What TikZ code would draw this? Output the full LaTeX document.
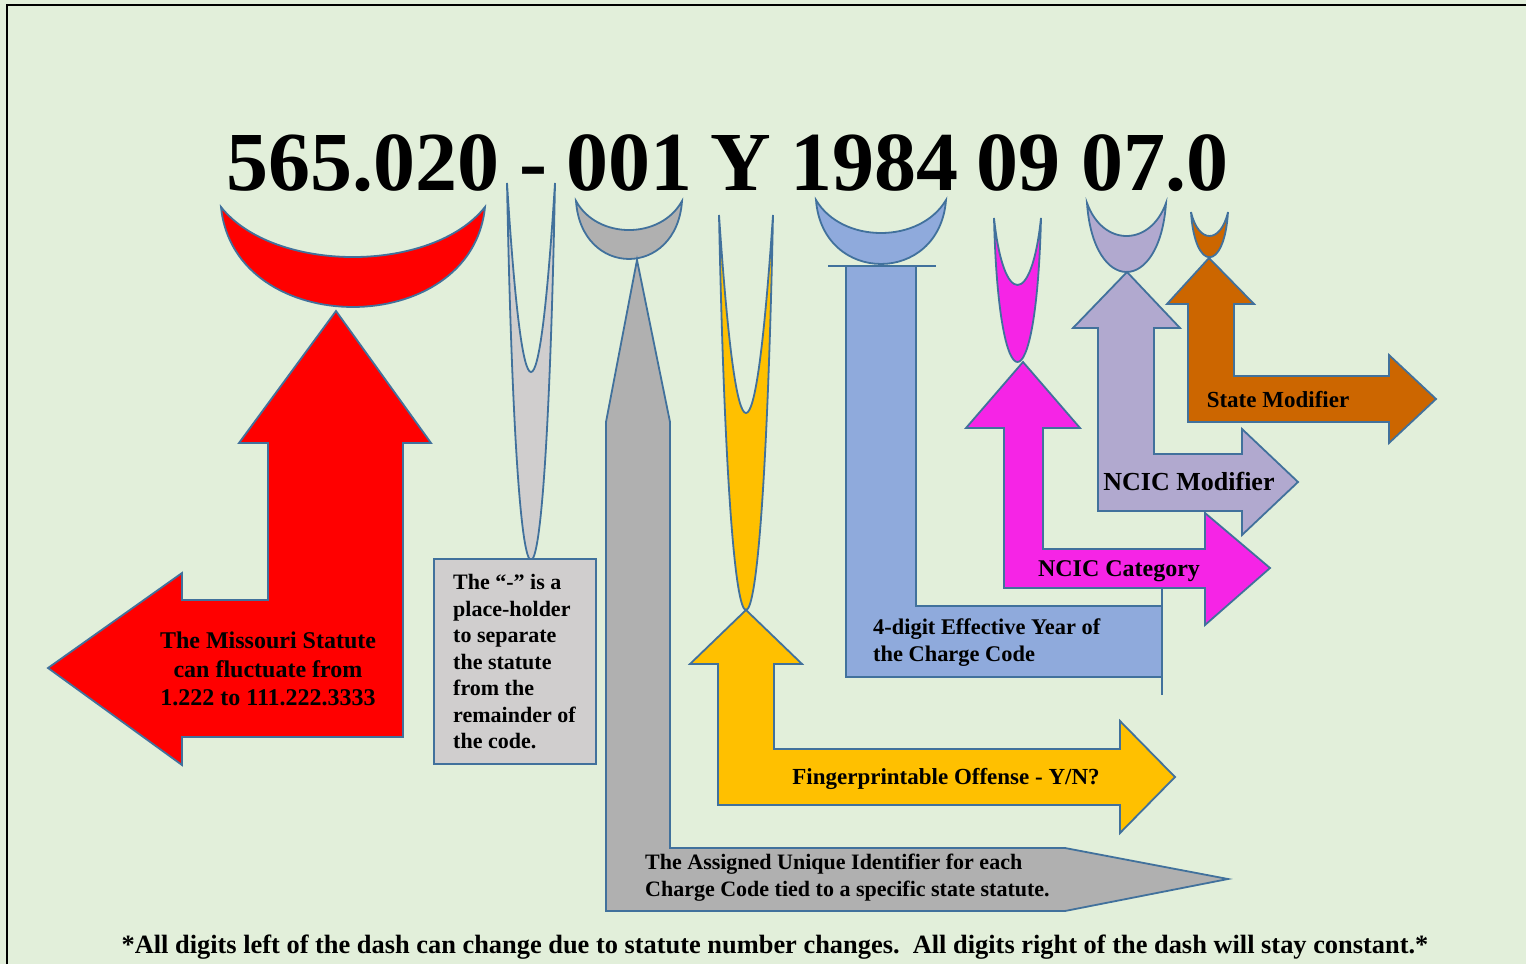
\documentclass[tikz,border=0pt]{standalone}
\usepackage{fontspec}
\setmainfont{Liberation Serif}
\definecolor{bg}{RGB}{226,239,218}
\definecolor{edge}{RGB}{65,113,156}
\definecolor{lgray}{RGB}{208,206,206}
\definecolor{mgray}{RGB}{176,176,176}
\definecolor{gold}{RGB}{255,192,0}
\definecolor{sky}{RGB}{143,170,220}
\definecolor{pinkish}{RGB}{246,36,230}
\definecolor{lav}{RGB}{177,169,207}
\definecolor{rust}{RGB}{204,102,0}
\tikzset{
  shp/.style={draw=edge, line width=1.8pt, line join=miter},
  big/.style={font=\fontsize{84}{84}\selectfont\bfseries, inner sep=0pt, anchor=base},
  lbl/.style={font=\fontsize{22}{26.5}\selectfont\bfseries, inner sep=0pt, align=left},
}
\begin{document}
\begin{tikzpicture}[x=1pt,y=-1pt]
\useasboundingbox (0,0) rectangle (1526,964);
\fill[bg] (0,0) rectangle (1526,964);
\draw[line width=2pt, black] (7,964) -- (7,5) -- (1526,5);

% number pieces
\node[big] (n1) at (362.5,190) {565.020};
\node[big] (n2) at (533.5,190) {-};
\node[big] (n3) at (629.5,190) {001};
\node[big] (n4) at (741,190) {Y};
\node[big] (n5) at (874,190) {1984};
\node[big] (n6) at (1018,190) {09};
\node[big] (n7) at (1155,190) {07.0};

% crescents
\path[shp, fill=red] (221,207) .. controls (273.8,273.7) and (432.2,273.7) .. (485,207)
  .. controls (471.8,340.3) and (234.2,340.3) .. (221,207) -- cycle;
\path[shp, fill=mgray] (576,201) .. controls (597.2,239.7) and (660.8,239.7) .. (682,201)
  .. controls (676.7,278.3) and (581.3,278.3) .. (576,201) -- cycle;
\path[shp, fill=sky] (816,200) .. controls (842,244) and (920,244) .. (946,200)
  .. controls (939.5,285.3) and (822.5,285.3) .. (816,200) -- cycle;
\path[shp, fill=lav] (1087,203) .. controls (1102.8,247) and (1150.2,247) .. (1166,203)
  .. controls (1159.7,295) and (1093.3,295) .. (1087,203) -- cycle;
\path[shp, fill=rust] (1191,212) .. controls (1198.4,244) and (1220.6,244) .. (1228,212)
  .. controls (1224.3,272.3) and (1194.7,272.3) .. (1191,212) -- cycle;
\path[shp, fill=lgray] (507,183) .. controls (523,435) and (539,435) .. (555,183)
  .. controls (545.4,685.7) and (516.6,685.7) .. (507,183) -- cycle;
\path[shp, fill=gold] (719,215) .. controls (737,479) and (755,479) .. (773,215)
  .. controls (762.2,741.7) and (729.8,741.7) .. (719,215) -- cycle;
\path[shp, fill=pinkish] (994,218) .. controls (1003.4,307.3) and (1031.6,307.3) .. (1041,218)
  .. controls (1036.3,410) and (998.7,410) .. (994,218) -- cycle;

% red arrow
\path[shp, fill=red] (336,311) -- (431,443) -- (403,443) -- (403,737) -- (182,737) -- (182,765)
  -- (48,668) -- (182,573) -- (182,600) -- (268,600) -- (268,443) -- (239,443) -- cycle;
% gray long arrow
\path[shp, fill=mgray] (637,260) -- (670,422) -- (670,848) -- (1065,848) -- (1228,879)
  -- (1065,911) -- (606,911) -- (606,422) -- cycle;
% yellow arrow
\path[shp, fill=gold] (746,610) -- (802,664) -- (774,664) -- (774,749) -- (1120,749) -- (1120,721)
  -- (1175,777) -- (1120,833) -- (1120,805) -- (718,805) -- (718,664) -- (690,664) -- cycle;
% blue shape
\path[shp, fill=sky] (846,266) -- (916,266) -- (916,606) -- (1162,606) -- (1162,677) -- (846,677) -- cycle;
\draw[edge, line width=2.4pt] (828,266) -- (936,266);
\draw[edge, line width=1.8pt] (1162,588) -- (1162,695);
% magenta arrow
\path[shp, fill=pinkish] (1023,362) -- (1080,428) -- (1043,428) -- (1043,549) -- (1205,549) -- (1205,513)
  -- (1270,568) -- (1205,625) -- (1205,588) -- (1004,588) -- (1004,428) -- (966,428) -- cycle;
% lavender arrow
\path[shp, fill=lav] (1127,272) -- (1180,328) -- (1154,328) -- (1154,454) -- (1242,454) -- (1242,429)
  -- (1298,482) -- (1242,535) -- (1242,511) -- (1098,511) -- (1098,328) -- (1073,328) -- cycle;
% orange arrow
\path[shp, fill=rust] (1209,258) -- (1254,304) -- (1234,304) -- (1234,376) -- (1389,376) -- (1389,355)
  -- (1436,399) -- (1389,443) -- (1389,422) -- (1188,422) -- (1188,304) -- (1167,304) -- cycle;
% placeholder box
\path[shp, fill=lgray] (434,559) rectangle (596,764);

% labels
\node[lbl, align=center, font=\fontsize{24}{28.5}\selectfont\bfseries] (tred) at (268,669)
  {The Missouri Statute\\can fluctuate from\\1.222 to 111.222.3333};
\node[lbl, anchor=west] (tbox) at (453,662)
  {The “-” is a\\place-holder\\to separate\\the statute\\from the\\remainder of\\the code.};
\node[lbl, anchor=west, font=\fontsize{22}{27}\selectfont\bfseries] (tgray) at (645,877.5)
  {The Assigned Unique Identifier for each\\Charge Code tied to a specific state statute.};
\node[lbl, font=\fontsize{23}{27}\selectfont\bfseries] (tgold) at (946,779) {Fingerprintable Offense - Y/N?};
\node[lbl, anchor=west, font=\fontsize{22.4}{27}\selectfont\bfseries] (tsky) at (873,642.5)
  {4-digit Effective Year of\\the Charge Code};
\node[lbl, font=\fontsize{24}{28}\selectfont\bfseries] (tpink) at (1119,571) {NCIC Category};
\node[lbl, font=\fontsize{26}{30}\selectfont\bfseries] (tlav) at (1189,481) {NCIC Modifier};
\node[lbl, font=\fontsize{23}{28}\selectfont\bfseries] (trust) at (1278,400) {State Modifier};
\node[lbl, font=\fontsize{26.4}{30}\selectfont\bfseries] (tfoot) at (775,947)
  {*All digits left of the dash can change due to statute number changes.\ \ All digits right of the dash will stay constant.*};
\end{tikzpicture}
\end{document}
